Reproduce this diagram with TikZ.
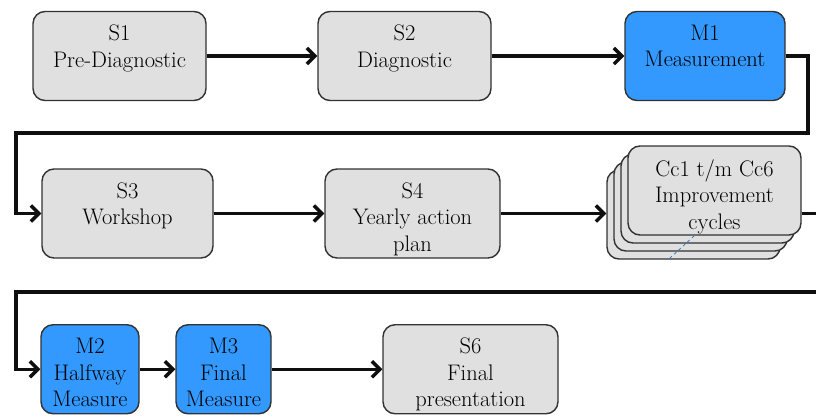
\documentclass[tikz,border=0pt]{standalone}
\usetikzlibrary{arrows.meta}
\definecolor{boxgray}{RGB}{224,224,224}
\definecolor{boxblue}{RGB}{51,153,255}
\definecolor{edgecol}{RGB}{50,50,50}
\definecolor{linkcol}{RGB}{15,15,15}
\definecolor{tracecol}{RGB}{60,120,200}

\begin{document}
\begin{tikzpicture}[x=1pt,y=-1pt,
  box/.style={draw=edgecol, line width=1.4pt, rounded corners=12pt, inner sep=0pt, minimum height=89pt},
  stepbox/.style={box, fill=boxgray, minimum width=#1},
  measbox/.style={box, fill=boxblue, minimum width=#1},
  caption/.style={anchor=north, inner sep=0pt, align=center, text=black, font=\rmfamily\fontsize{22.5}{26.5}\selectfont},
  link/.style={draw=linkcol, line width=3.4pt},
  flow/.style={link, -{Straight Barb[length=8pt,width=16pt]}},
]
\useasboundingbox (0,0) rectangle (816,415);
\clip (0,0) rectangle (816,415);

% first row
\node[stepbox=173pt] (s1) at (119.5,56) {};
\node[caption] (s1t) at ([yshift=-14pt]s1.north) {S1\\Pre-Diagnostic};
\node[stepbox=173pt] (s2) at (404.5,56) {};
\node[caption] (s2t) at ([yshift=-14pt]s2.north) {S2\\Diagnostic};
\node[measbox=160pt] (m1) at (705,56) {};
\node[caption] (m1t) at ([yshift=-14pt]m1.north) {M1\\Measurement};

% second row
\node[stepbox=171pt] (s3) at (127.5,213.5) {};
\node[caption] (s3t) at ([yshift=-14pt]s3.north) {S3\\Workshop};
\node[stepbox=175pt] (s4) at (412.5,213.5) {};
\node[caption] (s4t) at ([yshift=-14pt]s4.north) {S4\\Yearly action\\plan};

% stacked improvement cycles, back to front
\node[stepbox=173pt] (cc4) at (693.5,214.5) {};
\node[stepbox=173pt] (cc3) at (700.5,206.5) {};
\node[stepbox=173pt] (cc2) at (707.5,198.5) {};
\node[stepbox=173pt] (cc1) at (714.5,190.5) {};
\node[caption] (cc1t) at ([yshift=-14pt]cc1.north) {Cc1 t/m Cc6\\Improvement\\cycles};
\draw[tracecol, dashed, line width=0.8pt] (694,236) -- (670,258);

% third row
\node[measbox=98pt] (m2) at (90,369.25) {};
\node[caption] (m2t) at ([yshift=-14pt]m2.north) {M2\\Halfway\\Measure};
\node[measbox=95pt] (m3) at (223.5,369.25) {};
\node[caption] (m3t) at ([yshift=-14pt]m3.north) {M3\\Final\\Measure};
\node[stepbox=175pt] (s6) at (470.5,369.25) {};
\node[caption] (s6t) at ([yshift=-14pt]s6.north) {S6\\Final\\presentation};

% turning points of the long return lines
\coordinate (turnA) at (808,133);
\coordinate (turnB) at (16,133);
\coordinate (turnC) at (824,292);
\coordinate (turnD) at (16,292);

% connectors
\draw[flow] (s1) -- (s2);
\draw[flow] (s2) -- (m1);
\draw[flow] (m1.east) -- (m1.east -| turnA) -- (turnA) -- (turnB) -- (turnB |- s3.west) -- (s3.west);
\draw[flow] (s3) -- (s4);
\draw[flow] (s4.east) -- (s4.east -| cc4.west);
\draw[flow] (s4.east -| cc1.east) -- (s4.east -| turnC) -- (turnC) -- (turnD) -- (turnD |- m2.west) -- (m2.west);
\draw[flow] (m2) -- (m3);
\draw[flow] (m3) -- (s6);
\end{tikzpicture}
\end{document}
